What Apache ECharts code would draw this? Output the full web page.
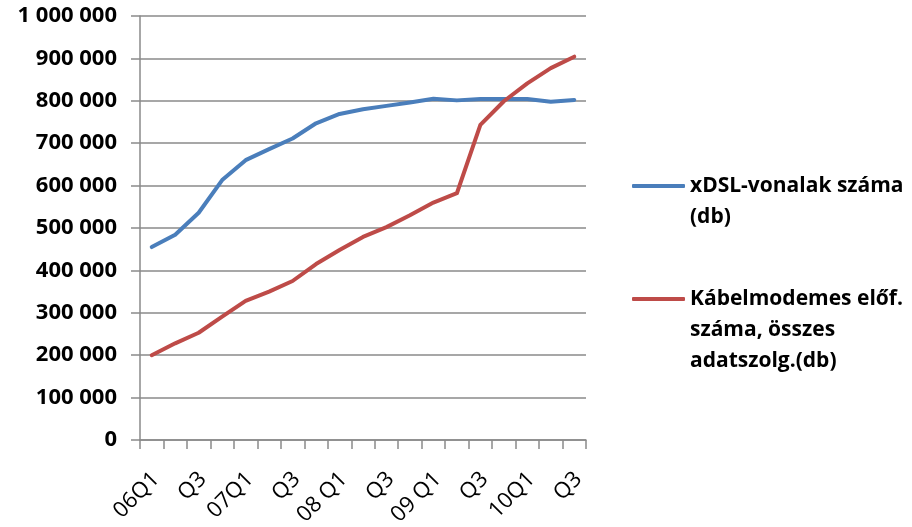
<!DOCTYPE html>
<html>
<head>
<meta charset="utf-8">
<script src="https://cdn.jsdelivr.net/npm/echarts@6/dist/echarts.min.js"></script>
<style>
  html, body { margin: 0; padding: 0; background: #fff; }
  #chart { width: 912px; height: 527px; }
</style>
</head>
<body>
<div id="chart"></div>
<script>
// Quarters from 2006 Q1 to 2010 Q3
const categories = ['06Q1','06Q2','06Q3','06Q4','07Q1','07Q2','07Q3','07Q4',
  '08Q1','08Q2','08Q3','08Q4','09Q1','09Q2','09Q3','09Q4','10Q1','10Q2','10Q3'];
// Axis text under each quarter (every second one is left blank)
const tickLabels = ['06Q1','','Q3','','07Q1','','Q3','','08 Q1','','Q3','',
  '09 Q1','','Q3','','10Q1','','Q3'];

const seriesNames = ['xDSL-vonalak száma (db)', 'Kábelmodemes előf. száma, összes adatszolg.(db)'];
const legendLines = [['xDSL-vonalak száma', '(db)'], ['Kábelmodemes előf.', 'száma, összes', 'adatszolg.(db)']];

// Number of DSL lines
const xdslLines = [455000, 484000, 536000, 613000, 660000, 686000, 711000, 747000,
  769000, 780000, 788000, 796000, 805000, 801000, 804000, 804000, 804000, 798000, 802000];
// Cable modem subscriptions
const cableSubs = [200000, 228000, 253000, 291000, 328000, 350000, 375000, 415000,
  448000, 479000, 502000, 530000, 560000, 582000, 743000, 799000, 841000, 877000, 904000];

const colors = ['#4a7ebb', '#be4b48'];
const FONT = '"Open Sans", "Liberation Sans", sans-serif';
const LH = 31;

function fmtThousands(v) {
  return String(v).replace(/\B(?=(\d{3})+(?!\d))/g, ' ');
}

// Legend text is vertically centred on the icon, so blank lines are put in
// front of the wrapped name to keep its first line level with the icon.
function makeLegend(i, iconY) {
  const n = legendLines[i].length;
  const lead = new Array(n - 1).fill('').join('\n');
  return {
    show: true,
    orient: 'vertical',
    left: 632,
    top: iconY - LH * (2 * n - 1) / 2,
    padding: 0,
    itemWidth: 53,
    itemHeight: 4,
    itemGap: 0,
    icon: 'roundRect',
    data: [seriesNames[i]],
    formatter: () => lead + '\n' + legendLines[i].join('\n'),
    textStyle: {
      fontFamily: FONT,
      fontWeight: 'bold',
      fontSize: 21,
      color: '#000',
      lineHeight: LH
    }
  };
}

const chart = echarts.init(document.getElementById('chart'), null, { renderer: 'canvas' });
chart.setOption({
  animation: false,
  backgroundColor: '#fff',
  grid: { left: 140, right: 326, top: 16, bottom: 87, containLabel: false, outerBoundsMode: 'none' },
  legend: [
    makeLegend(0, 186),
    makeLegend(1, 299)
  ],
  xAxis: {
    type: 'category',
    data: categories,
    boundaryGap: true,
    axisLine: { lineStyle: { color: '#8a8a8a', width: 1.5 } },
    axisTick: { show: true, interval: 0, length: 9, lineStyle: { color: '#8a8a8a', width: 1.5 } },
    axisLabel: {
      interval: 0,
      rotate: 45,
      margin: 40,
      fontFamily: FONT,
      fontSize: 22,
      color: '#000',
      padding: [0, -6, 0, 0],
      formatter: (v, idx) => tickLabels[idx]
    },
    splitLine: { show: false }
  },
  yAxis: {
    type: 'value',
    min: 0,
    max: 1000000,
    interval: 100000,
    axisLine: { show: true, lineStyle: { color: '#8a8a8a', width: 1.5 } },
    axisTick: { show: true, length: 9, lineStyle: { color: '#8a8a8a', width: 1.5 } },
    axisLabel: {
      margin: 23,
      fontFamily: FONT,
      fontWeight: 'bold',
      fontSize: 22,
      color: '#000',
      formatter: fmtThousands
    },
    splitLine: { lineStyle: { color: '#8a8a8a', width: 1.5 } }
  },
  series: [
    {
      name: seriesNames[0],
      type: 'line',
      data: xdslLines,
      showSymbol: false,
      symbol: 'none',
      lineStyle: { color: colors[0], width: 4, cap: 'round', join: 'round' },
      itemStyle: { color: colors[0] }
    },
    {
      name: seriesNames[1],
      type: 'line',
      data: cableSubs,
      showSymbol: false,
      symbol: 'none',
      lineStyle: { color: colors[1], width: 4, cap: 'round', join: 'round' },
      itemStyle: { color: colors[1] }
    }
  ]
});
</script>
</body>
</html>
